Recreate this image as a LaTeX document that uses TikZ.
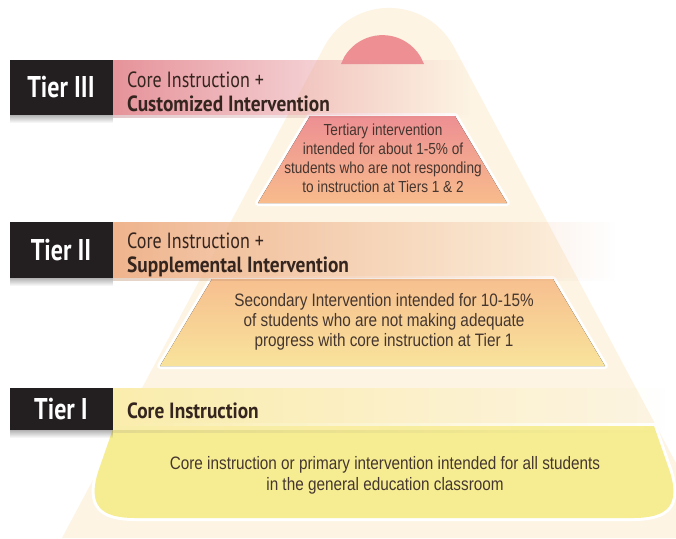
\documentclass[tikz,border=0pt]{standalone}
\usepackage{fontspec}
\setmainfont{Liberation Sans}
\newfontfamily\bodyfont[FakeStretch=0.85]{Liberation Sans}
\newfontfamily\headfont[FakeStretch=0.82]{PT Sans}
\newfontfamily\headbfont[FakeStretch=0.88]{PT Sans}
\newfontfamily\tierfont[FakeStretch=0.8]{PT Sans}
\usetikzlibrary{fadings}
\tikzfading[name=fadeR, left color=transparent!0, right color=transparent!100]
\tikzfading[name=fadeD, top color=transparent!0, bottom color=transparent!100]
\definecolor{cream}{HTML}{FDF4E3}
\definecolor{blk}{HTML}{231F20}
\definecolor{pinkA}{HTML}{ED8F93}
\definecolor{pinkB}{HTML}{F8BC8C}
\definecolor{banIII}{HTML}{E6939A}
\definecolor{banII}{HTML}{EFB48C}
\definecolor{banI}{HTML}{FAEDAC}
\definecolor{peachA}{HTML}{F7BF8F}
\definecolor{peachB}{HTML}{F8E39B}
\definecolor{yel}{HTML}{F6ED93}
\definecolor{txt}{HTML}{45362F}
\definecolor{headtxt}{HTML}{35251F}
\tikzset{
  tierlabel/.style={font=\tierfont\bfseries\fontsize{30}{32}\selectfont, text=white, inner sep=0pt},
  headline/.style={font=\headfont\fontsize{22}{24}\selectfont, text=headtxt, inner sep=0pt, anchor=base west},
  headbold/.style={font=\headbfont\bfseries\fontsize{22}{24}\selectfont, text=headtxt, inner sep=0pt, anchor=base west},
  bodytext/.style={font=\bodyfont\fontsize{16}{19}\selectfont, text=txt, align=center, inner sep=0pt},
  halo/.style={draw=white, line width=6pt, line join=round},
  blackbox/.style={fill=blk},
  shadowbar/.style={fill=black, opacity=0.3, path fading=fadeD}
}
\begin{document}
\begin{tikzpicture}[x=1pt,y=-1pt]
\useasboundingbox (0,0) rectangle (676,538);
\fill[white] (0,0) rectangle (676,538);
% background cream pyramid
\fill[cream] (62,538) -- (324.6,46) arc[start angle=208.8, end angle=331.2, radius=73.5] -- (716,538) -- cycle;

% Tier 3 dome and trapezoid
\fill[pinkA] (344.2,57) arc[start angle=210.5, end angle=329.5, radius=44.4] -- (424,64) -- (341,64) -- cycle;
\path[halo] (310,116) -- (455,116) -- (507,203) -- (258,203) -- cycle;
\fill[top color=pinkA, bottom color=pinkB] (310,116) -- (455,116) -- (507,203) -- (258,203) -- cycle;

% Tier 2 trapezoid
\path[halo] (212,279) -- (553,279) -- (605,366) -- (160,366) -- cycle;
\fill[top color=peachA, bottom color=peachB] (212,279) -- (553,279) -- (605,366) -- (160,366) -- cycle;

% Tier 1 shape
\path[halo] (114,426) -- (98,472) .. controls (88,505) and (100,518) .. (135,518) -- (633,518) .. controls (668,518) and (680,505) .. (670,472) -- (654,426) -- cycle;
\fill[yel] (114,426) -- (98,472) .. controls (88,505) and (100,518) .. (135,518) -- (633,518) .. controls (668,518) and (680,505) .. (670,472) -- (654,426) -- cycle;

% Banners
\fill[banIII, path fading=fadeR] (113,60) rectangle (470,115);
\fill[shadowbar] (10,115) rectangle (113,123);
\fill[banIII!80!black, opacity=0.4, path fading=fadeR] (113,115) rectangle (470,118);
\fill[blackbox] (10,60) rectangle (113,115);

\fill[banII, path fading=fadeR] (113,222) rectangle (615,278);
\fill[shadowbar] (10,278) rectangle (113,286);
\fill[banII!80!black, opacity=0.4, path fading=fadeR] (113,278) rectangle (615,281);
\fill[blackbox] (10,222) rectangle (113,278);

\fill[banI, path fading=fadeR] (113,388) rectangle (665,430);
\fill[shadowbar] (10,430) rectangle (113,438);
\fill[banI!80!black, opacity=0.4, path fading=fadeR] (113,430) rectangle (665,433);
\fill[blackbox] (10,388) rectangle (113,430);

% Labels
\node[tierlabel] (t3) at (61,87) {Tier III};
\node[tierlabel] (t2) at (61,250) {Tier II};
\node[tierlabel] (t1) at (61,409) {Tier I};

\node[headline] (h3a) at (127,87) {Core Instruction +};
\node[headbold] (h3b) at (127,111) {Customized Intervention};
\node[headline] (h2a) at (127,248) {Core Instruction +};
\node[headbold] (h2b) at (127,272) {Supplemental Intervention};
\node[headbold] (h1a) at (127,418) {Core Instruction};

% Body texts
\node[bodytext] (b3) at (383,158) {Tertiary intervention\\intended for about 1-5\% of\\students who are not responding\\to instruction at Tiers 1 \& 2};
\node[bodytext, font=\bodyfont\fontsize{18}{20}\selectfont] (b2) at (384,322) {Secondary Intervention intended for 10-15\%\\of students who are not making adequate\\progress with core instruction at Tier 1};
\node[bodytext, font=\bodyfont\fontsize{18}{21}\selectfont] (b1) at (385,475) {Core instruction or primary intervention intended for all students\\in the general education classroom};
\end{tikzpicture}
\end{document}
